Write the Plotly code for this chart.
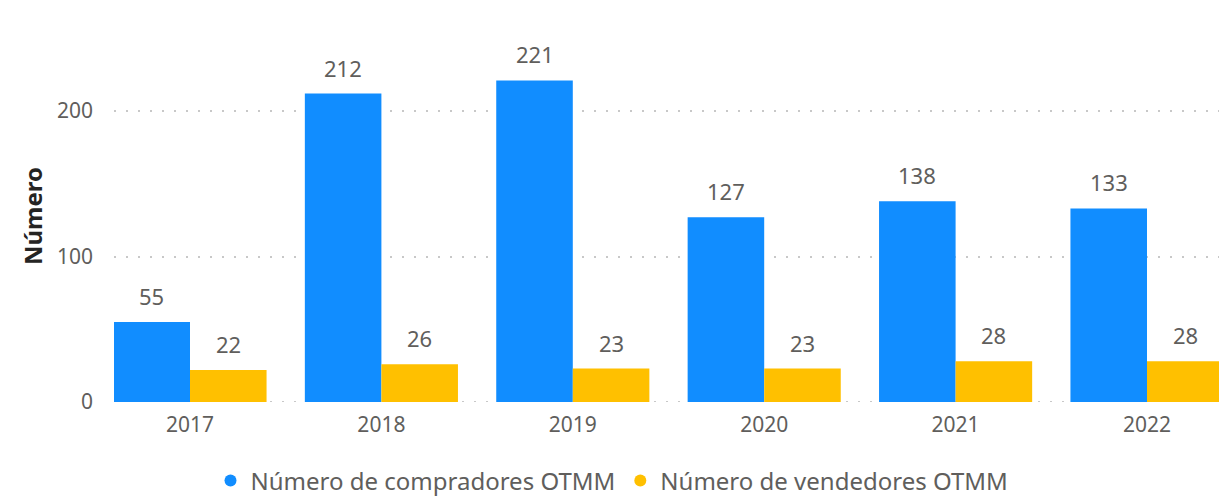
import plotly.graph_objects as go

years = ["2017", "2018", "2019", "2020", "2021", "2022"]
compradores = [55, 212, 221, 127, 138, 133]
vendedores = [22, 26, 23, 23, 28, 28]
y_ticks = [0, 100, 200]
names = ["Número de compradores OTMM", "Número de vendedores OTMM"]
colors = ["#118DFF", "#FFC000"]

W, H = 1219, 497
L, R, T, B = 114, 0, 40, 95
pos = list(range(len(years)))
GREY = "#605E5C"

fig = go.Figure()
for vals, name, col in zip([compradores, vendedores], names, colors):
    fig.add_bar(x=pos, y=vals, name=name, marker_color=col, showlegend=False)
for name, col in zip(names, colors):
    fig.add_scatter(x=[None], y=[None], mode="markers", name=name,
                    marker=dict(symbol="circle", size=18, color=col))

# data labels above each bar (group offset of +/- one bar half-width)
annots = []
for vals, off in zip([compradores, vendedores], [-0.2, 0.2]):
    for i, v in zip(pos, vals):
        annots.append(dict(x=i + off, y=v, xref="x", yref="y", text=str(v),
                           showarrow=False, yanchor="bottom", yshift=9,
                           font=dict(size=22, color=GREY)))
annots.append(dict(text="<b>Número</b>", textangle=-90, xref="paper", yref="paper",
                   x=(32 - L) / (W - L - R), y=(402 - 216) / (402 - T),
                   xanchor="center", yanchor="middle", showarrow=False,
                   font=dict(size=24, color="#252423")))

fig.update_layout(
    width=W, height=H,
    margin=dict(l=L, r=R, t=T, b=B, pad=0, autoexpand=False),
    paper_bgcolor="white", plot_bgcolor="white",
    font=dict(family="Noto Sans, Open Sans, sans-serif", color=GREY),
    barmode="group", bargap=0.2, bargroupgap=0,
    showlegend=True,
    legend=dict(orientation="h", x=(612 - L) / (W - L - R), xanchor="center", xref="paper",
                y=-(481 - 402) / (402 - T), yanchor="middle", yref="paper",
                font=dict(size=24, color=GREY), itemsizing="constant",
                itemwidth=30, tracegroupgap=0, bgcolor="rgba(0,0,0,0)"),
    xaxis=dict(range=[(L - 190) / 191.4, (W - 190) / 191.4], automargin=False,
               tickvals=pos, ticktext=years, showgrid=False, zeroline=False,
               showline=False, ticks="", tickfont=dict(size=21, color=GREY),
               ticklabelstandoff=8),
    yaxis=dict(range=[0, (402 - T) / ((402 - 111) / 200)], tickvals=y_ticks,
               automargin=False,
               showgrid=True, gridcolor="#C8C8C8", griddash="2px,10px", gridwidth=2,
               zeroline=False, showline=False, ticks="",
               tickfont=dict(size=21, color=GREY), ticklabelstandoff=20),
    annotations=annots,
)
fig.add_shape(type="line", xref="paper", yref="y", x0=0, x1=1, y0=0, y1=0,
              line=dict(color="#C8C8C8", width=2, dash="2px,10px"), layer="below")
fig.update_traces(marker_line_width=0, selector=dict(type="bar"))
fig.write_html("out.html", config={"displayModeBar": False},
               post_script="document.body.style.margin='0';document.body.style.overflow='hidden';")
